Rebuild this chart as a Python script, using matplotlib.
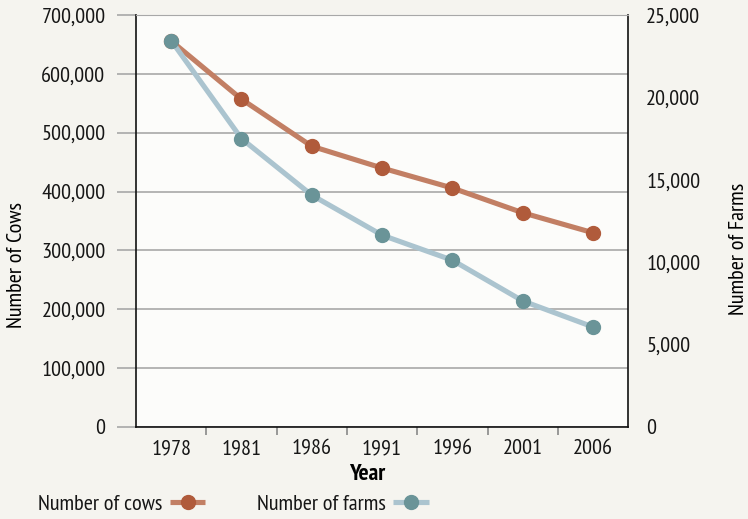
import matplotlib.pyplot as plt
from matplotlib.ticker import FuncFormatter, FixedLocator

years = ['1978', '1981', '1986', '1991', '1996', '2001', '2006']
cows = [656000, 557000, 477000, 440000, 406000, 364000, 330000]
farms = [23450, 17500, 14070, 11640, 10120, 7650, 6070]

cow_line = '#c27f64'
cow_dot = '#b05b3b'
farm_line = '#abc4cf'
farm_dot = '#6a9498'
bg = '#f5f4ef'

plt.rcParams['font.family'] = ['PT Sans Narrow', 'DejaVu Sans']
plt.rcParams['font.size'] = 16
plt.rcParams['text.color'] = '#161616'
plt.rcParams['xtick.labelcolor'] = '#161616'
plt.rcParams['ytick.labelcolor'] = '#161616'

fig = plt.figure(figsize=(7.48, 5.19), dpi=100, facecolor=bg)
ax = fig.add_axes([0.1818, 0.1773, 0.658, 0.7938])
ax.set_facecolor('#fcfcfa')

x = list(range(len(years)))
ax.plot(x, cows, color=cow_line, lw=3.7, marker='o', ms=10,
        mfc=cow_dot, mec=cow_dot, solid_capstyle='butt', label='Number of cows')
ax.set_ylim(0, 700000)
ax.set_xlim(-0.5, 6.5)
ax.set_yticks(range(0, 700001, 100000))
ax.yaxis.set_major_formatter(FuncFormatter(lambda v, p: f'{int(v):,}'))
ax.grid(axis='y', color='#a8a8a8', lw=1.2)
ax.set_axisbelow(True)
ax.tick_params(axis='y', length=14, width=1.2, color='#a8a8a8', pad=8, labelsize=16)
ax.set_ylabel('Number of Cows', fontsize=16)
ax.yaxis.set_label_coords(-0.224, 0.393)

# labels under each year, tick marks between them
ax.set_xticks(x)
ax.set_xticklabels(years)
ax.xaxis.set_minor_locator(FixedLocator([i + 0.5 for i in x[:-1]]))
ax.tick_params(axis='x', which='major', length=0, pad=9, labelsize=16)
ax.tick_params(axis='x', which='minor', length=6, width=1.2, color='#888888')
ax.set_xlabel('Year', fontsize=17, fontweight='bold')
ax.xaxis.set_label_coords(0.47, -0.09)

for s in ['left', 'bottom', 'right']:
    ax.spines[s].set_color('#111111')
    ax.spines[s].set_linewidth(1.2)
ax.spines['top'].set_color('#a8a8a8')

ax2 = ax.twinx()
ax2.plot(x, farms, color=farm_line, lw=3.7, marker='o', ms=10,
         mfc=farm_dot, mec=farm_dot, solid_capstyle='butt', label='Number of farms')
ax2.set_ylim(0, 25000)
ax2.set_yticks(range(0, 25001, 5000))
ax2.yaxis.set_major_formatter(FuncFormatter(lambda v, p: f'{int(v):,}'))
ax2.tick_params(axis='y', length=0, pad=13, labelsize=16)
ax2.set_ylabel('Number of Farms', fontsize=16)
ax2.yaxis.set_label_coords(1.204, 0.432)
for s in ax2.spines.values():
    s.set_visible(False)

h1, l1 = ax.get_legend_handles_labels()
h2, l2 = ax2.get_legend_handles_labels()
fig.legend(h1 + h2, l1 + l2, loc='center left', bbox_to_anchor=(0.024, 0.029),
           ncol=2, frameon=False, markerfirst=False, fontsize=16,
           handlelength=1.58, handletextpad=0.36, columnspacing=2.3)

fig.savefig('out.png', dpi=100, facecolor=bg)
